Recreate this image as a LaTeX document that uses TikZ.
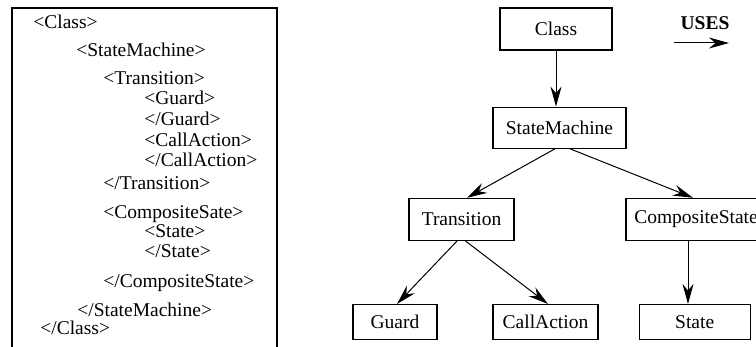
\documentclass[tikz,border=0pt]{standalone}
\usepackage{fontspec}
\setmainfont{Liberation Serif}
\usetikzlibrary{positioning,arrows.meta}

\newcommand{\tagopen}[1]{\textless #1\textgreater}

\tikzset{
  box/.style={draw, line width=0.6pt, minimum height=21pt, inner sep=0pt},
  small box/.style={box, minimum height=17.5pt},
  xml/.style={anchor=base west, inner sep=0pt},
  link/.style={line width=0.5pt, -{Stealth[length=10pt,width=5.5pt]}}
}

\begin{document}
\begin{tikzpicture}[x=0.5pt, y=-0.5pt, font=\fontsize{9.75}{12}\selectfont]

  \clip (0,0) rectangle (756,347);

  % listing
  \draw[line width=0.6pt] (12,360) -- (12,8) -- (277,8) -- (277,360);
  \node[xml] (x1)  at (33,29)   {\tagopen{Class}};
  \node[xml] (x2)  at (76,57)   {\tagopen{StateMachine}};
  \node[xml] (x3)  at (103,85)  {\tagopen{Transition}};
  \node[xml] (x4)  at (144,105) {\tagopen{Guard}};
  \node[xml] (x5)  at (144,126) {\tagopen{/Guard}};
  \node[xml] (x6)  at (144,147) {\tagopen{CallAction}};
  \node[xml] (x7)  at (144,167) {\tagopen{/CallAction}};
  \node[xml] (x8)  at (103,190) {\tagopen{/Transition}};
  \node[xml] (x9)  at (103,219) {\tagopen{CompositeSate}};
  \node[xml] (x10) at (144,238) {\tagopen{State}};
  \node[xml] (x11) at (144,258) {\tagopen{/State}};
  \node[xml] (x12) at (103,288) {\tagopen{/CompositeState}};
  \node[xml] (x13) at (77,317)  {\tagopen{/StateMachine}};
  \node[xml] (x14) at (40,335)  {\tagopen{/Class}};

  % tree
  \node[box, minimum width=56pt] (cls) at (556,29) {Class};
  \node[box, minimum width=66.5pt, minimum height=20.5pt] (sm) [below=28pt of cls, xshift=1.75pt] {StateMachine};
  \node[box, minimum width=52.5pt] (trans) [below=24.5pt of sm, xshift=-49pt] {Transition};
  \node[box, minimum width=70pt] (comp) [below=24.5pt of sm, xshift=68.25pt] {CompositeState};
  \node[small box, minimum width=42pt] (guard) [below=31.5pt of trans, xshift=-33.25pt] {Guard};
  \node[small box, minimum width=52.5pt] (call) [below=31.5pt of trans, xshift=42pt] {CallAction};
  \node[small box, minimum width=55.5pt] (state) [below=31.5pt of comp, xshift=-0.65pt] {State};

  \draw[link] (cls.south) -- (cls.south |- sm.north);
  \draw[link] ([xshift=-2.25pt]sm.south) -- ([xshift=2.75pt]trans.north);
  \draw[link] ([xshift=5.25pt]sm.south) -- ([xshift=-1.5pt]comp.north);
  \draw[link] ([xshift=-2.25pt]trans.south) -- ([xshift=1pt]guard.north);
  \draw[link] ([xshift=2pt]trans.south) -- ([xshift=1.25pt]call.north);
  \draw[link] ([xshift=-4pt]comp.south) -- ([xshift=-4pt]comp.south |- state.north);

  % legend
  \node (uses) at (705,23) {\textbf{USES}};
  \coordinate (u1) at (674,43);
  \coordinate (u2) at (729,43);
  \draw[link] (u1) -- (u2);

\end{tikzpicture}
\end{document}
